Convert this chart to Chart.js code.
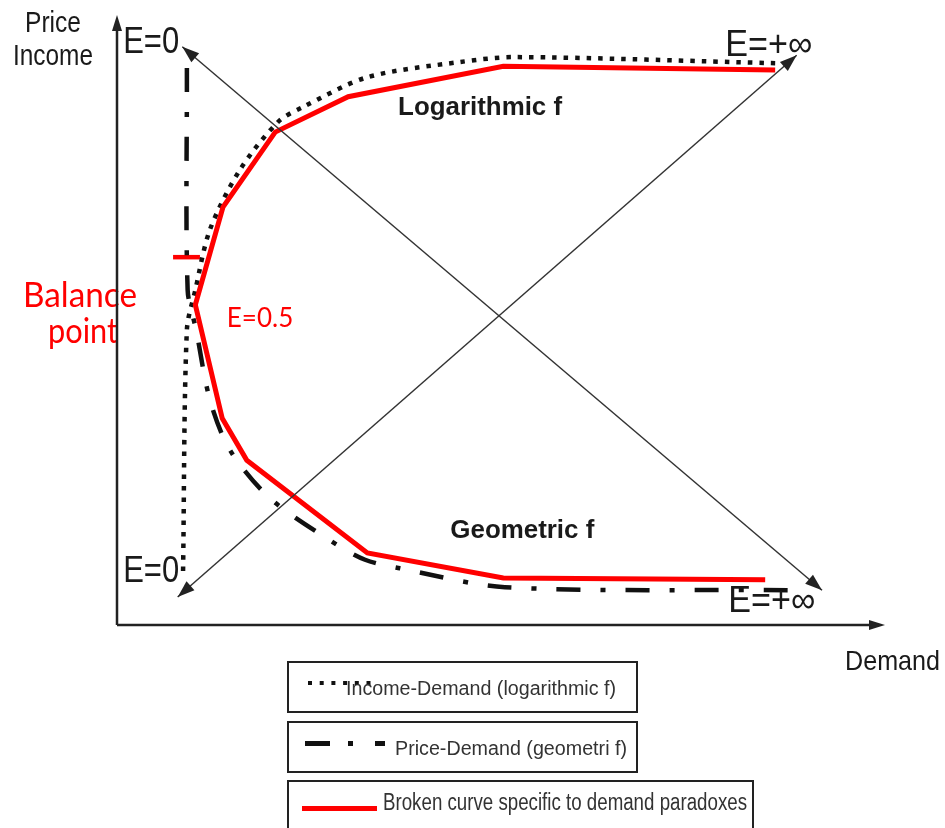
<!DOCTYPE html>
<html>
<head>
<meta charset="utf-8">
<script src="https://cdn.jsdelivr.net/npm/chart.js@4.4.1/dist/chart.umd.min.js"></script>
<style>
  html, body { margin: 0; padding: 0; background: #fff; }
  canvas { display: block; }
</style>
</head>
<body>
<canvas id="paradoxChart" width="945" height="828"></canvas>
<script>
// demand (x) and price / income (y), both axes run 0..10
const brokenDemand = [8.57, 5.03, 3.01, 2.06, 1.38, 1.02, 1.37, 1.69, 3.26, 5.03, 8.44];
const brokenPrice  = [9.10, 9.16, 8.66, 8.08, 6.85, 5.25, 3.39, 2.70, 1.18, 0.77, 0.74];
const incomeDemand = [8.57, 5.18, 4.47, 3.26, 2.42, 2.10, 1.60, 1.21, 1.02, 0.91, 0.86];
const incomeLevel  = [9.21, 9.31, 9.23, 8.98, 8.49, 8.25, 7.46, 6.48, 5.49, 4.84, 0.87];
const priceDemand  = [0.91, 0.92, 1.03, 1.21, 1.47, 1.99, 2.77, 3.23, 3.68, 5.05, 8.76];
const priceLevel   = [9.13, 5.49, 4.84, 3.69, 2.87, 2.08, 1.39, 1.07, 0.93, 0.62, 0.57];

// elasticity diagonals (arrow at both ends)
const fallX = [0.85, 9.18];
const fallY = [9.48, 0.57];
const riseX = [0.79, 8.85];
const riseY = [0.46, 9.34];

// short red tick at the balance point
const balanceX = [0.73, 1.08];
const balanceY = [6.03, 6.03];

// elasticity labels: text, demand, price
const elasticityText = ['E=0', 'E=+\u221E', 'E=0', 'E=+\u221E'];
const elasticityX    = [0.08, 7.92, 0.08, 7.96];
const elasticityY    = [9.38, 9.33, 0.70, 0.21];

const legendText = [
  'Income-Demand (logarithmic f)',
  'Price-Demand (geometri f)',
  'Broken curve specific to demand paradoxes'
];

const NARROW = '"Liberation Sans Narrow", "Arial Narrow", "Liberation Sans", Arial, sans-serif';
const SANS = '"Liberation Sans", Arial, sans-serif';
const HUMAN = 'Lato, "Open Sans", sans-serif';
const RED = '#ff0000';
const INK = '#1a1a1a';

const pts = (xs, ys) => xs.map((x, i) => ({ x: x, y: ys[i] }));

function arrowHead(ctx, fx, fy, tx, ty, len, half) {
  const a = Math.atan2(ty - fy, tx - fx);
  const c = Math.cos(a), s = Math.sin(a);
  ctx.beginPath();
  ctx.moveTo(tx, ty);
  ctx.lineTo(tx - len * c + half * s, ty - len * s - half * c);
  ctx.lineTo(tx - len * c - half * s, ty - len * s + half * c);
  ctx.closePath();
  ctx.fill();
}

function text(ctx, str, x, y, font, color, maxW, align) {
  ctx.save();
  ctx.font = font;
  ctx.fillStyle = color;
  ctx.textAlign = align || 'left';
  ctx.textBaseline = 'alphabetic';
  if (maxW) ctx.fillText(str, x, y, maxW); else ctx.fillText(str, x, y);
  ctx.restore();
}

const diagramPlugin = {
  id: 'diagram',
  beforeDatasetDraw(chart, args) {
    // white label box for E=0.5 sits between the black curves and the red one
    if (args.index !== 2) return;
    const { ctx, scales } = chart;
    const x0 = scales.x.getPixelForValue(1.12);
    const y0 = scales.y.getPixelForValue(5.24);
    ctx.save();
    ctx.fillStyle = '#fff';
    ctx.fillRect(x0, y0, 100, 38);
    ctx.restore();
  },
  afterDatasetsDraw(chart) {
    const { ctx, chartArea: a, scales } = chart;
    const sx = scales.x, sy = scales.y;

    // arrowheads on both ends of the diagonals
    ctx.save();
    ctx.fillStyle = '#222';
    [0, 1].forEach(i => {
      const p = chart.getDatasetMeta(i).data;
      arrowHead(ctx, p[1].x, p[1].y, p[0].x, p[0].y, 17, 6);
      arrowHead(ctx, p[0].x, p[0].y, p[1].x, p[1].y, 17, 6);
    });
    ctx.restore();

    // Balance point label sits under the y axis
    text(ctx, 'Balance', a.left - 37, a.top + 292, '35px ' + HUMAN, RED, 114, 'center');
    text(ctx, 'point', a.left - 34, a.top + 328, '35px ' + HUMAN, RED, 70, 'center');

    // axes
    ctx.save();
    ctx.strokeStyle = '#222';
    ctx.fillStyle = '#222';
    ctx.lineWidth = 2.5;
    ctx.beginPath();
    ctx.moveTo(a.left, a.bottom);
    ctx.lineTo(a.left, a.top + 12);
    ctx.moveTo(a.left, a.bottom);
    ctx.lineTo(a.right - 12, a.bottom);
    ctx.stroke();
    arrowHead(ctx, a.left, a.bottom, a.left, a.top, 16, 5);
    arrowHead(ctx, a.left, a.bottom, a.right, a.bottom, 16, 5);
    ctx.restore();

    // elasticity labels
    elasticityText.forEach((t, i) => {
      text(ctx, t, sx.getPixelForValue(elasticityX[i]), sy.getPixelForValue(elasticityY[i]),
        '36px ' + NARROW, INK, t.length > 3 ? 87 : 56);
    });
    text(ctx, 'E=0.5', sx.getPixelForValue(1.43), sy.getPixelForValue(4.89), '26px ' + HUMAN, RED, 70);
    text(ctx, 'Logarithmic f', sx.getPixelForValue(3.66), sy.getPixelForValue(8.36), 'bold 26px ' + SANS, INK, 164);
    text(ctx, 'Geometric f', sx.getPixelForValue(4.34), sy.getPixelForValue(1.43), 'bold 26px ' + SANS, INK, 144);

    // axis titles
    text(ctx, 'Price', a.left - 92, a.top + 17, '30px ' + NARROW, INK, 56);
    text(ctx, 'Income', a.left - 104, a.top + 50, '30px ' + NARROW, INK, 80);
    text(ctx, 'Demand', a.right - 40, a.bottom + 45, '28px ' + NARROW, INK, 95);
  },
  afterDraw(chart) {
    const { ctx } = chart;
    const bx = 288;
    ctx.save();
    ctx.strokeStyle = '#222';
    ctx.lineWidth = 2;
    ctx.strokeRect(bx, 662, 349, 50);
    ctx.strokeRect(bx, 722, 349, 50);
    ctx.strokeRect(bx, 781, 465, 60);

    // dotted sample
    ctx.fillStyle = '#111';
    for (let x = 308; x <= 378; x += 11.7) ctx.fillRect(x, 681, 4, 4);
    // dash-dot sample
    ctx.fillRect(305, 741, 25, 5);
    ctx.fillRect(348, 741, 5, 5);
    ctx.fillRect(375, 741, 10, 5);
    // red sample
    ctx.fillStyle = RED;
    ctx.fillRect(302, 806, 75, 5);
    ctx.restore();

    text(ctx, legendText[0], 346, 695, '20px ' + SANS, '#333', 270);
    text(ctx, legendText[1], 395, 755, '20px ' + SANS, '#333', 232);
    text(ctx, legendText[2], 383, 810, '23px ' + NARROW, '#333', 364);
  }
};

new Chart(document.getElementById('paradoxChart'), {
  type: 'scatter',
  data: {
    datasets: [
      { data: pts(fallX, fallY), borderColor: '#333', borderWidth: 1.5 },
      { data: pts(riseX, riseY), borderColor: '#333', borderWidth: 1.5 },
      { data: pts(brokenDemand, brokenPrice), borderColor: RED, borderWidth: 5, borderJoinStyle: 'miter' },
      { data: pts(incomeDemand, incomeLevel), borderColor: '#111', borderWidth: 4.5,
        borderDash: [4.5, 7], borderCapStyle: 'butt', tension: 0.3 },
      { data: pts(priceDemand, priceLevel), borderColor: '#111', borderWidth: 4.5,
        borderDash: [24, 20, 5, 20], borderCapStyle: 'butt', tension: 0.3 },
      { data: pts(balanceX, balanceY), borderColor: RED, borderWidth: 4.5 }
    ].map(d => Object.assign({ showLine: true, pointRadius: 0, fill: false }, d))
  },
  options: {
    responsive: false,
    animation: false,
    devicePixelRatio: 1,
    layout: { padding: { left: 117, right: 60, top: 15, bottom: 203 } },
    scales: {
      x: { type: 'linear', min: 0, max: 10, display: false },
      y: { type: 'linear', min: 0, max: 10, display: false }
    },
    plugins: { legend: { display: false }, tooltip: { enabled: false } }
  },
  plugins: [diagramPlugin]
});
</script>
</body>
</html>
